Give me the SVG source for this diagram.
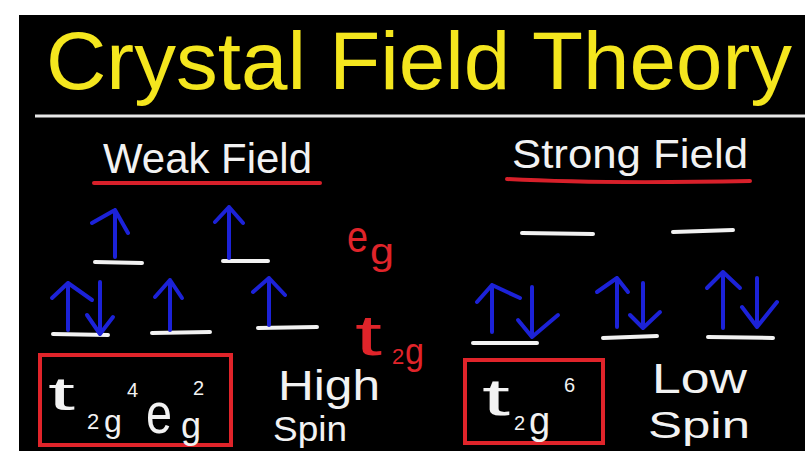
<svg xmlns="http://www.w3.org/2000/svg" width="805" height="451" viewBox="0 0 805 451">
<style>
text{font-family:"Liberation Sans","DejaVu Sans",sans-serif}
.w{fill:#f2f2f2}
.r{fill:#e0242a}
.lvl{stroke:#f2f2f2;stroke-width:4;stroke-linecap:round;fill:none}
.sp{stroke:#1c22d8;stroke-width:4;stroke-linecap:round;stroke-linejoin:round;fill:none}
.ul{stroke:#d8202a;stroke-width:4;stroke-linecap:round;fill:none}
.box{stroke:#e0242a;stroke-width:4;fill:none}
</style>
<rect width="805" height="451" fill="#ffffff"/>
<rect x="19" y="15" width="786" height="436" fill="#000000"/>
<g id="title">
<text x="46" y="89" font-size="82" fill="#f4e61e" textLength="746" lengthAdjust="spacingAndGlyphs">Crystal Field Theory</text>
<line x1="35" y1="116" x2="805" y2="116" stroke="#e8e8e8" stroke-width="3"/>
</g>
<g id="weak-heading">
<text class="w" x="103" y="173" font-size="42" textLength="209" lengthAdjust="spacingAndGlyphs">Weak Field</text>
<line class="ul" x1="94" y1="183" x2="320" y2="183"/>
</g>
<g id="strong-heading">
<text class="w" x="512" y="168" font-size="40" textLength="236" lengthAdjust="spacingAndGlyphs">Strong Field</text>
<path class="ul" d="M507,179 Q600,184 750,181"/>
</g>
<g id="weak-levels">
<line class="lvl" x1="95" y1="262" x2="142" y2="263"/>
<line class="lvl" x1="223" y1="261" x2="268" y2="261"/>
<line class="lvl" x1="53" y1="334" x2="108" y2="335"/>
<line class="lvl" x1="152" y1="333" x2="210" y2="332"/>
<line class="lvl" x1="258" y1="328" x2="317" y2="327"/>
</g>
<g id="strong-levels">
<line class="lvl" x1="522" y1="233" x2="593" y2="234"/>
<line class="lvl" x1="673" y1="232" x2="733" y2="230"/>
<line class="lvl" x1="473" y1="343" x2="537" y2="343"/>
<line class="lvl" x1="603" y1="338" x2="657" y2="336"/>
<line class="lvl" x1="708" y1="337" x2="773" y2="338"/>
</g>
<g id="spin-arrows">
<path class="sp" d="M115,257 L115,210 M92,223 L115,210 L128,233"/>
<path class="sp" d="M229,258 L229,207 M215,222 L229,207 L243,223"/>
<path class="sp" d="M68,330 L68,283 M52,298 L68,283 L92,300"/>
<path class="sp" d="M100,282 L100,334 M87,315 L100,334 L113,317"/>
<path class="sp" d="M170,330 L170,280 M155,297 L170,280 L182,298"/>
<path class="sp" d="M269,325 L269,278 M253,292 L269,278 L285,295"/>
<path class="sp" d="M492,332 L492,285 M477,302 L492,285 L520,298"/>
<path class="sp" d="M532,287 L532,337 M518,320 L532,337 L558,315"/>
<path class="sp" d="M617,327 L617,278 M597,292 L617,278 L628,292"/>
<path class="sp" d="M643,283 L643,328 M630,315 L643,328 L660,312"/>
<path class="sp" d="M723,328 L723,272 M707,288 L723,272 L740,288"/>
<path class="sp" d="M757,278 L757,327 M742,307 L757,327 L777,302"/>
</g>
<g id="eg-label">
<text class="r" x="347" y="252" font-size="44" textLength="21" lengthAdjust="spacingAndGlyphs">e</text>
<text class="r" x="370" y="264" font-size="36" textLength="24" lengthAdjust="spacingAndGlyphs">g</text>
</g>
<g id="t2g-label">
<text class="r" x="355" y="355" font-size="58" textLength="27" lengthAdjust="spacingAndGlyphs">t</text>
<text class="r" x="392" y="364" font-size="22">2</text>
<text class="r" x="405" y="364" font-size="36" textLength="19" lengthAdjust="spacingAndGlyphs">g</text>
</g>
<g id="weak-config">
<rect class="box" x="40" y="355" width="191" height="90"/>
<text class="w" x="48" y="410" font-size="46" textLength="27" lengthAdjust="spacingAndGlyphs">t</text>
<text class="w" x="87" y="429" font-size="22">2</text>
<text class="w" x="104" y="432" font-size="32">g</text>
<text class="w" x="127" y="397" font-size="20">4</text>
<text class="w" x="146" y="433" font-size="58" textLength="26" lengthAdjust="spacingAndGlyphs">e</text>
<text class="w" x="181" y="438" font-size="36">g</text>
<text class="w" x="193" y="395" font-size="20">2</text>
</g>
<g id="high-spin">
<text class="w" x="278" y="400" font-size="42" textLength="102" lengthAdjust="spacingAndGlyphs">High</text>
<text class="w" x="273" y="441" font-size="35" textLength="74" lengthAdjust="spacingAndGlyphs">Spin</text>
</g>
<g id="strong-config">
<rect class="box" x="465" y="360" width="138" height="83"/>
<text class="w" x="482" y="415" font-size="52" textLength="28" lengthAdjust="spacingAndGlyphs">t</text>
<text class="w" x="514" y="430" font-size="20">2</text>
<text class="w" x="529" y="434" font-size="38">g</text>
<text class="w" x="564" y="392" font-size="20">6</text>
</g>
<g id="low-spin">
<text class="w" x="652" y="393" font-size="42" textLength="95" lengthAdjust="spacingAndGlyphs">Low</text>
<text class="w" x="648" y="438" font-size="37" textLength="102" lengthAdjust="spacingAndGlyphs">Spin</text>
</g>
</svg>
